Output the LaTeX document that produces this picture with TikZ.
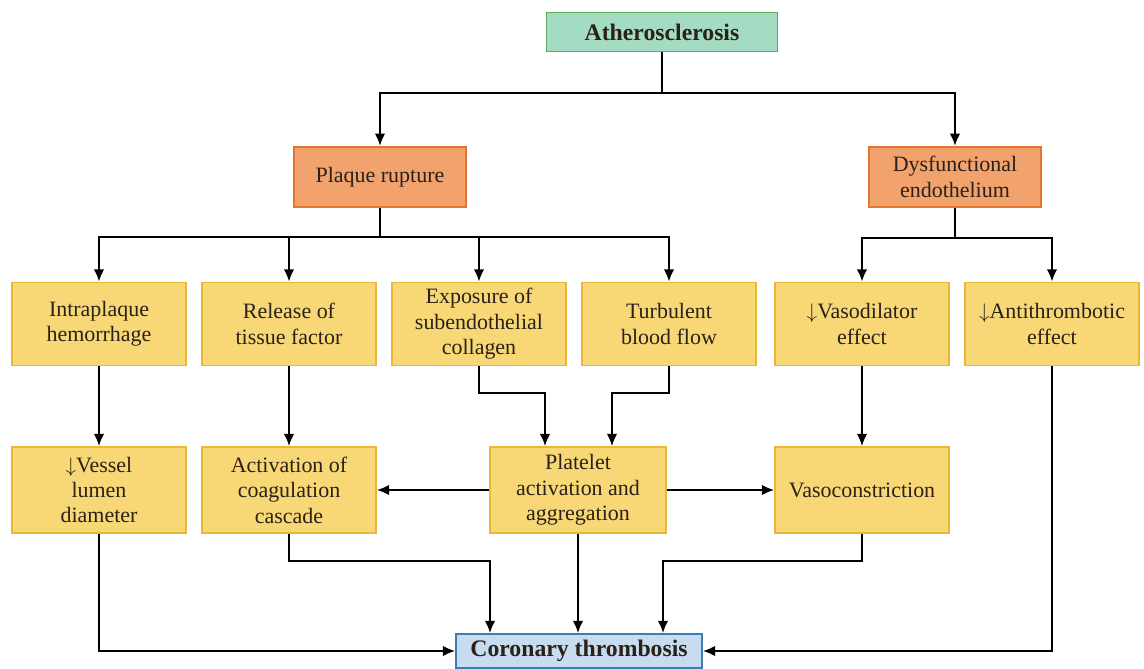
\documentclass[tikz,border=0pt]{standalone}
\usepackage{fontspec}
\setmainfont{Liberation Serif}
\usepackage{xcolor}
\usepackage{tikz}
\usetikzlibrary{calc}
\usetikzlibrary{arrows.meta}

\definecolor{greenfill}{HTML}{A3DCC2}
\definecolor{greenline}{HTML}{62A85A}
\definecolor{orangefill}{HTML}{F2A26C}
\definecolor{orangeline}{HTML}{E5742C}
\definecolor{yellowfill}{HTML}{F8D876}
\definecolor{yellowline}{HTML}{E9B735}
\definecolor{bluefill}{HTML}{C8DCEF}
\definecolor{blueline}{HTML}{3B7EB2}
\definecolor{inktext}{HTML}{2A2118}

\begin{document}
\begin{tikzpicture}[x=0.02cm, y=-0.02cm,
    base/.style={line width=1pt, align=center, text=inktext,
        font=\fontsize{12.5}{14.5}\selectfont, inner sep=2pt},
    topbox/.style={base, draw=greenline, fill=greenfill,
        minimum width=4.62cm, minimum height=0.78cm,
        font=\bfseries\fontsize{13.5}{15}\selectfont},
    causebox/.style={base, draw=orangeline, fill=orangefill,
        minimum width=3.45cm, minimum height=1.21cm},
    effectbox/.style={base, draw=yellowline, fill=yellowfill,
        minimum width=3.48cm, minimum height=1.66cm},
    endbox/.style={base, draw=blueline, fill=bluefill,
        minimum width=4.92cm, minimum height=0.68cm,
        font=\bfseries\fontsize{13.5}{15}\selectfont},
    arr/.style={line width=1.1pt, -{Latex[length=7pt,width=6pt]}},
    lin/.style={line width=1.1pt}]

\useasboundingbox (0,0) rectangle (1144,669);

% top level
\node[topbox] (athero) at (662,32) {Atherosclerosis};
\node[causebox] (plaque) at (380,177) {Plaque rupture};
\node[causebox] (dysfunc) at (955,177) {Dysfunctional\\endothelium};

% second row
\node[effectbox] (intra) at (99,324) {Intraplaque\\hemorrhage};
\node[effectbox] (release) at (289,324) {Release of\\tissue factor};
\node[effectbox] (expo) at (479,324) {Exposure of\\subendothelial\\collagen};
\node[effectbox] (turb) at (669,324) {Turbulent\\blood flow};
\node[effectbox] (vasodil) at (862,324) {$\downarrow$Vasodilator\\effect};
\node[effectbox] (antithr) at (1052,324) {$\downarrow$Antithrombotic\\effect};

% third row
\node[effectbox, minimum height=1.72cm] (vessel) at (99,490) {$\downarrow$Vessel\\lumen\\diameter};
\node[effectbox, minimum height=1.72cm] (activ) at (289,490) {Activation of\\coagulation\\cascade};
\node[effectbox, minimum height=1.72cm, minimum width=3.52cm] (platelet) at (578,490) {Platelet\\activation and\\aggregation};
\node[effectbox, minimum height=1.72cm] (vasocon) at (862,490) {Vasoconstriction};

% outcome
\node[endbox] (coronary) at (579,651) {Coronary thrombosis};

% atherosclerosis branches
\draw[lin] (athero.south) -- ++(0,41) coordinate (abus);
\draw[arr] (abus) -| (plaque.north);
\draw[arr] (abus) -| (dysfunc.north);

% plaque rupture branches
\draw[lin] (plaque.south) -- ++(0,29) coordinate (pbus);
\draw[arr] (pbus) -| (intra.north);
\draw[arr] (pbus) -| (release.north);
\draw[arr] (pbus) -| (expo.north);
\draw[arr] (pbus) -| (turb.north);

% endothelium branches
\draw[lin] (dysfunc.south) -- ++(0,30) coordinate (dbus);
\draw[arr] (dbus) -| (vasodil.north);
\draw[arr] (dbus) -| (antithr.north);

% second row to third row
\draw[arr] (intra) -- (vessel);
\draw[arr] (release) -- (activ);
\draw[arr] (expo.south) -- ++(0,27) -| ($(platelet.north)+(-33,0)$);
\draw[arr] (turb.south) -- ++(0,27) -| ($(platelet.north)+(34,0)$);
\draw[arr] (vasodil) -- (vasocon);

% platelet side arrows
\draw[arr] (platelet) -- (activ);
\draw[arr] (platelet) -- (vasocon);

% into coronary thrombosis
\draw[arr] (vessel.south) |- (coronary.west);
\draw[arr] (antithr.south) |- (coronary.east);
\draw[arr] (activ.south) -- ++(0,27) -| ($(coronary.north)+(-89,0)$);
\draw[arr] (platelet.south) -- (platelet.south |- coronary.north);
\draw[arr] (vasocon.south) -- ++(0,27) -| ($(coronary.north)+(84,0)$);
\end{tikzpicture}
\end{document}
